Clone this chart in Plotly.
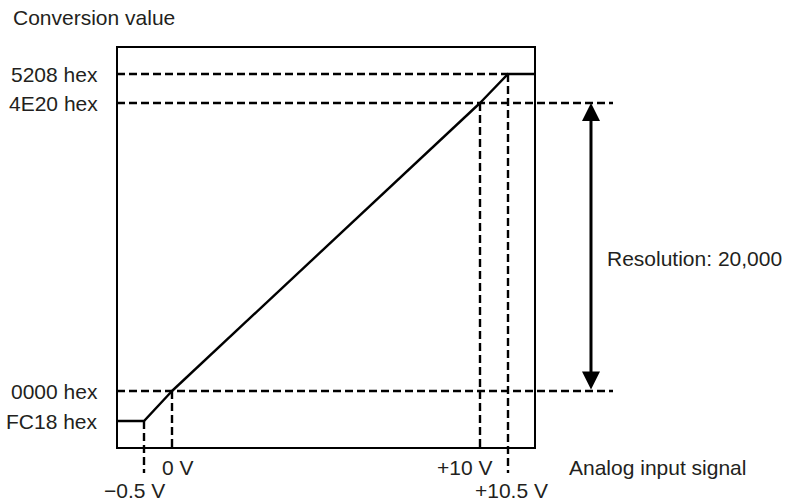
import plotly.graph_objects as go

# ---- data ----
input_volts = [-0.5, 0, 10, 10.5]              # analog input signal (V)
conversion_values = [-1000, 0, 20000, 21000]   # FC18, 0000, 4E20, 5208 hex
y_tick_labels = ["FC18 hex", "0000 hex", "4E20 hex", "5208 hex"]
x_tick_labels = ["\u22120.5 V", "0 V", "+10 V", "+10.5 V"]
resolution_label = "Resolution: 20,000"
x_title = "Analog input signal"
y_title = "Conversion value"

# ---- schematic (broken) scales: three overlaid axis pairs ----
# low end (-0.5..0 V, FC18..0000), middle (0..10 V, 0000..4E20), high end (10..10.5 V, 4E20..5208)
XL_RANGE = [-0.98214, 7.875]
XM_RANGE = [-1.78571, 14.31818]
XR_RANGE = [3.51786, 12.375]
YB_RANGE = [-2733.3, 11466.7]
YM_RANGE = [-5694.4, 23888.9]
YT_RANGE = [7241.4, 21931.0]
BOX_RIGHT_XR = 10.98214      # right edge of the frame on the high-end x axis
BOX_BOTTOM_YB = -1900.0      # bottom edge of the frame on the low-end y axis
BOX_BOTTOM_YT = 8103.4       # bottom edge of the frame on the high-end y axis
BOX_PAPER = dict(x0=0, x1=0.84274, y0=0.058685, y1=1)
ARROW_XR = 11.982

FONT = "Liberation Sans, Arial, Helvetica, sans-serif"
TXT = "#231f20"
DASH = "8px,4px"
FS = 21

fig = go.Figure()
solid = dict(color="black", width=2.4)
dashed = dict(color="black", width=2.4, dash=DASH)


def seg(x, y, xa, ya, line):
    fig.add_trace(go.Scatter(x=x, y=y, xaxis=xa, yaxis=ya, mode="lines",
                             line=line, hoverinfo="skip", showlegend=False))


v0, v1, v2, v3 = input_volts
c0, c1, c2, c3 = conversion_values

# transfer characteristic
seg([XL_RANGE[0], v0, v1], [c0, c0, c1], "x", "y", solid)
seg([v1, v2], [c1, c2], "x2", "y2", solid)
seg([v2, v3, BOX_RIGHT_XR], [c2, c3, c3], "x3", "y3", solid)

# horizontal dashed reference lines
seg([XR_RANGE[0], v3], [c3, c3], "x3", "y3", dashed)          # 5208 hex
seg([XM_RANGE[0], XM_RANGE[1]], [c2, c2], "x2", "y2", dashed)  # 4E20 hex
seg([XM_RANGE[0], XM_RANGE[1]], [c1, c1], "x2", "y2", dashed)  # 0000 hex

# vertical dashed reference lines
seg([v0, v0], [c0, YB_RANGE[0]], "x", "y", dashed)             # -0.5 V
seg([v1, v1], [c1, BOX_BOTTOM_YB], "x", "y", dashed)           # 0 V
seg([v2, v2], [c2, BOX_BOTTOM_YT], "x3", "y3", dashed)         # +10 V
seg([v3, v3], [c3, YT_RANGE[0]], "x3", "y3", dashed)           # +10.5 V

annotations = []
# y labels (low-end values on the low-end axis, high-end values on the high-end axis)
for i, (v, t) in enumerate(zip(conversion_values, y_tick_labels)):
    annotations.append(dict(xref="paper", x=0, xanchor="right", xshift=-17,
                            yref="y" if i < 2 else "y3", y=v, yanchor="middle",
                            text=t, showarrow=False))
# x labels
x_label_shift = [(-10, -17), (6, 6), (-16, 6), (3, -17)]
for i, (xv, t, (dx, dy)) in enumerate(zip(input_volts, x_tick_labels, x_label_shift)):
    annotations.append(dict(xref="x" if i < 2 else "x3", x=xv, xanchor="center", xshift=dx,
                            yref="paper", y=0, yanchor="middle", yshift=dy,
                            text=t, showarrow=False))
# axis titles
annotations.append(dict(xref="paper", x=-0.2137, xanchor="left",
                        yref="paper", y=1.0681, yanchor="middle",
                        text=y_title, showarrow=False))
annotations.append(dict(xref="paper", x=0.9073, xanchor="left",
                        yref="paper", y=0, yanchor="middle", yshift=6,
                        text=x_title, showarrow=False))
# resolution arrow
annotations.append(dict(xref="x3", x=ARROW_XR, axref="x3", ax=ARROW_XR,
                        yref="y2", y=c2, ayref="y2", ay=c1,
                        text="", showarrow=True, arrowhead=2, arrowside="end+start",
                        arrowwidth=3, arrowsize=1.2, arrowcolor="black",
                        standoff=0, startstandoff=0))
annotations.append(dict(xref="x3", x=ARROW_XR, xanchor="left", xshift=14,
                        yref="y2", y=(c1 + c2) / 2, yanchor="middle", yshift=-11,
                        text=resolution_label, showarrow=False))

hidden = dict(visible=False, showgrid=False, zeroline=False, fixedrange=True)
fig.update_layout(
    width=785, height=502,
    margin=dict(l=117, r=172, t=47, b=29),
    paper_bgcolor="white", plot_bgcolor="white",
    font=dict(family=FONT, size=FS, color=TXT),
    xaxis=dict(range=XL_RANGE, **hidden),
    xaxis2=dict(range=XM_RANGE, overlaying="x", **hidden),
    xaxis3=dict(range=XR_RANGE, overlaying="x", **hidden),
    yaxis=dict(range=YB_RANGE, **hidden),
    yaxis2=dict(range=YM_RANGE, overlaying="y", **hidden),
    yaxis3=dict(range=YT_RANGE, overlaying="y", **hidden),
    shapes=[dict(type="rect", xref="paper", yref="paper", **BOX_PAPER,
                 line=dict(color="black", width=2), fillcolor="rgba(0,0,0,0)")],
    annotations=annotations,
    showlegend=False,
)

fig.write_html("out.html", config={"displayModeBar": False},
               post_script="document.body.style.margin='0';")
